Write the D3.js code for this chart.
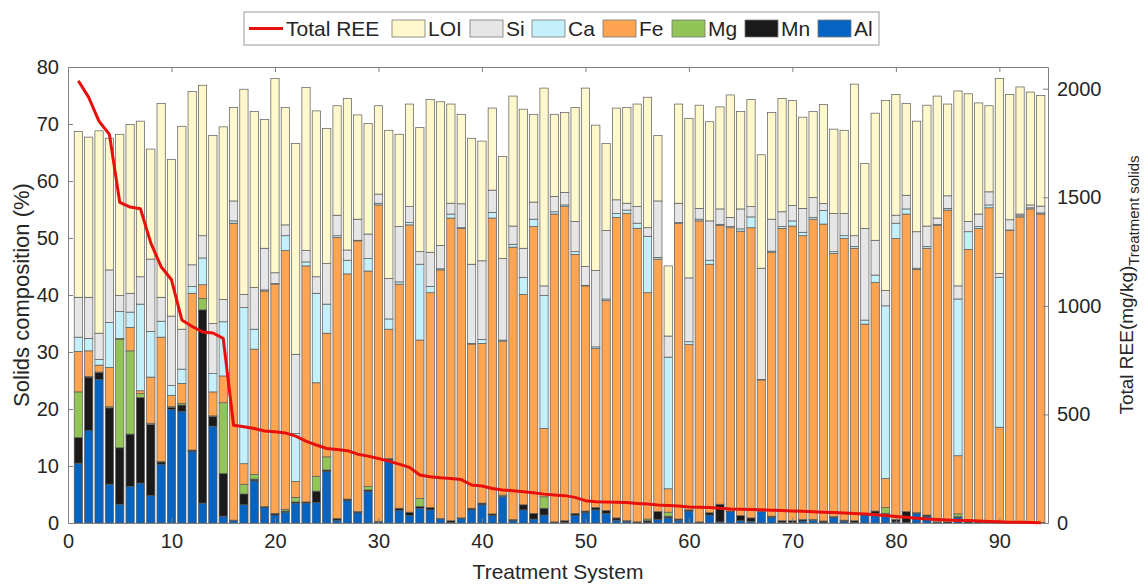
<!DOCTYPE html>
<html>
<head>
<meta charset="utf-8">
<script src="https://cdn.jsdelivr.net/npm/d3@7"></script>
<style>
  body { margin: 0; background: #fff; }
  svg { font-family: "Liberation Sans", Arial, sans-serif; }
</style>
</head>
<body>
<div id="chart"></div>
<script>
// treatment systems 1..94
const systems = d3.range(1, 95);

// solids composition (%) per system, stacked bottom to top
const al = [10.5,16.2,25.2,6.8,3.3,6.4,7.0,4.8,10.3,19.9, 19.6,12.5,3.5,17.0,1.2,0.4,3.2,7.4,2.7,1.4,
  1.9,3.5,3.5,3.6,9.0,0.5,3.9,1.8,5.5,0.2, 11.1,2.2,1.3,2.6,2.3,0.7,0.1,0.8,2.3,3.2,
  1.3,4.6,0.4,2.3,0.7,1.4,0.1,0.1,1.3,1.8, 2.3,1.7,0.5,0.3,0.1,0.1,0.6,0.9,0.5,2.1,
  0.1,1.4,0.2,2.0,0.4,0.3,2.0,1.0,0.1,0.1, 0.35,0.5,0.1,1.0,0.3,0.1,1.6,1.7,1.6,0.2,
  0.1,1.7,1.1,0.1,0,1.0,0,0.1,0.05,0, 0,0,0,0];
const mn = [4.5,9.4,1.2,13.4,9.9,9.2,15.0,12.5,0.4,0.4, 1.1,0.3,33.9,1.7,7.5,0.1,1.9,0.3,0.2,0.3,
  0.2,0.2,0.2,2.0,0.3,0.3,0.3,0.2,0.3,0.1, 0.2,0.4,0.6,0.3,0.4,0.1,0.3,0.1,0.3,0.3,
  0.3,0.1,0.2,0.9,1.0,1.2,0.1,0.3,0.4,0.3, 0.4,0.5,0.4,0.1,0.1,0.3,1.4,0.3,0.2,0.2,
  0.1,0.4,3.1,0.1,0.9,0.6,0,0.2,0.3,0.3, 0.25,0.1,0.25,0.1,0.2,0.3,0.1,0.4,0.1,0.4,
  1.9,0.1,0.3,0.1,0.2,0.1,0.2,0.1,0.05,0.1, 0.1,0.1,0.1,0.1];
const mg = [8.0,0.1,0.1,0.2,19.0,14.6,0.7,0.2,0.1,0.1, 0.3,0,2.0,0.1,12.4,0,1.7,0.8,0,0,
  0.3,0.8,0,2.6,2.3,0,0,0,0.6,0, 0,0,0,1.4,0,0,0,0,0,0,
  0,0.2,0,0,0,2.0,0,0,0,0, 0,0,0,0,0,0.3,0,0.7,0,0,
  0,0,0,0,0,0,0,0,0,0, 0,0,0,0,0,0,0,0,1.0,0,
  0,0,0,0,0,0.5,0,0,0,0, 0,0,0,0];
const fe = [7.1,4.5,1.2,6.9,0.2,4.1,0.5,8.1,21.8,2.0, 3.5,27.5,2.4,4.2,4.7,52.1,3.6,22.0,37.8,40.2,
  45.4,2.8,41.4,16.4,21.7,49.3,39.5,47.5,37.8,55.5, 22.7,39.3,50.4,27.8,37.7,43.6,53.1,50.8,28.8,28.0,
  51.9,27.0,47.8,36.9,50.3,12.0,54.0,55.1,45.4,39.5, 27.9,36.8,52.7,53.9,51.5,39.7,44.3,4.1,51.9,29.0,
  52.8,43.6,48.9,49.7,49.9,50.9,23.1,46.3,51.3,51.7, 49.8,52.7,52.1,46.2,49.4,47.8,33.2,40.1,5.1,49.3,
  52.2,42.7,46.8,52.0,54.7,10.2,47.8,51.5,55.2,16.7, 51.2,53.6,55.0,54.1];
const ca = [2.5,2.2,1.0,7.9,4.7,2.7,15.2,8.0,2.8,1.7, 2.5,1.2,4.7,3.2,9.5,0.4,27.4,3.5,0.2,0.1,
  2.6,8.4,0.7,15.7,5.1,0.3,2.4,0.1,2.2,0.3, 1.8,0.4,0.4,13.3,1.1,0.2,0.7,0.1,0.1,0.7,
  1.0,0.2,0.5,3.0,1.3,23.3,0.4,0.3,0.5,0.1, 0.3,0.3,0.7,0.6,0.9,9.9,0.3,23.1,0.1,0.5,
  0.3,0.7,0.2,0.2,0.4,1.9,0.1,0.2,0.3,0.9, 0.6,0.3,2.4,0.3,0.5,0.3,0.7,1.3,30.3,2.7,
  0.9,0.2,0.3,0.2,0.3,27.5,3.1,0.3,0.5,26.3, 0.1,0.2,0.2,0.2];
const si = [7.0,7.2,4.6,9.2,2.8,3.3,4.8,12.7,4.2,12.2, 7.0,3.8,3.9,8.8,3.9,3.5,2.3,7.3,7.3,1.9,
  1.9,13.9,2.0,2.9,7.1,3.6,1.8,3.7,4.3,1.6, 7.1,9.7,2.8,2.2,6.0,4.1,1.9,4.2,13.9,13.8,
  3.9,14.3,3.2,5.1,3.0,1.7,2.7,2.2,5.3,3.3, 13.4,12.0,2.4,1.2,2.9,1.5,9.9,3.7,3.4,11.2,
  1.9,6.9,2.7,1.6,3.5,1.8,19.5,5.6,2.6,2.7, 4.2,3.5,1.2,6.7,3.9,1.9,16.1,6.1,2.7,1.4,
  2.4,6.4,3.6,1.1,2.2,2.3,1.8,2.2,2.3,0.7, 1.8,0.3,0.5,1.2];
const loi = [29.1,28.1,35.5,23.1,28.3,29.6,27.3,19.3,34.0,27.5, 35.6,30.4,26.4,33.0,30.3,16.4,36.0,30.9,22.6,34.1,
  20.6,37.0,28.6,29.1,23.7,19.2,26.6,18.3,19.4,15.5, 26.0,16.2,18.0,21.8,26.8,25.2,17.4,15.7,22.1,21.0,
  14.4,17.9,22.8,24.4,15.4,34.7,14.4,14.0,20.0,31.3, 25.5,15.3,16.1,16.8,18.0,22.9,11.5,12.3,17.4,28.0,
  18.1,17.4,17.9,21.5,17.1,18.8,19.9,18.7,19.9,18.4, 16.0,15.1,17.4,14.8,14.6,26.6,11.4,22.3,33.3,21.2,
  16.1,19.4,21.2,21.4,16.1,34.2,22.4,19.5,15.1,34.2, 22.0,22.3,19.8,19.4];

// total REE (mg/kg) in treatment solids
const totalREE = [2037,1960,1850,1790,1477,1455,1447,1290,1180,1120, 935,905,880,875,850,450,443,435,424,420,
  415,400,377,359,343,339,333,317,308,297, 285,271,256,221,213,208,205,200,175,170,
  159,152,149,144,139,133,129,126,118,103, 98,97,96,94,90,87,83,81,78,74,
  73,71,68,64,63,62,61,59,57,55, 54,52,50,48,46,44,41,38,34,30,
  26,22,18,16,14,12,11,9,7,6, 4,3,2,1];

const keys = ['Al', 'Mn', 'Mg', 'Fe', 'Ca', 'Si', 'LOI'];
const colors = {Al: '#0563c1', Mn: '#1a1a1a', Mg: '#92c457', Fe: '#ffa552',
                Ca: '#c3f0fb', Si: '#e6e6e6', LOI: '#fff8cc'};
const legendOrder = ['LOI', 'Si', 'Ca', 'Fe', 'Mg', 'Mn', 'Al'];

const table = systems.map((s, i) => ({
  sys: s, Al: al[i], Mn: mn[i], Mg: mg[i], Fe: fe[i], Ca: ca[i], Si: si[i], LOI: loi[i]
}));

const width = 1145, height = 585;
const m = {left: 68, right: 97, top: 67, bottom: 62};

const svg = d3.select('#chart').append('svg')
  .attr('width', width).attr('height', height);

const x = d3.scaleLinear().domain([0, 94.7]).range([m.left, width - m.right]);
const yL = d3.scaleLinear().domain([0, 80]).range([height - m.bottom, m.top]);
const yR = d3.scaleLinear().domain([0, 2100]).range([height - m.bottom, m.top]);
const bw = x(0.8) - x(0);

const stacked = d3.stack().keys(keys)(table);

svg.append('g').selectAll('g')
  .data(stacked)
  .enter().append('g')
  .attr('fill', d => colors[d.key])
  .selectAll('rect')
  .data(d => d)
  .enter().append('rect')
  .attr('x', d => x(d.data.sys) - bw / 2)
  .attr('width', bw)
  .attr('y', d => yL(d[1]))
  .attr('height', d => yL(d[0]) - yL(d[1]))
  .attr('stroke', '#5a5a5a')
  .attr('stroke-width', 0.7);

// axes
const axisColor = '#808080';
const txtColor = '#262626';

function styleAxis(g) {
  g.selectAll('.domain').attr('stroke', axisColor);
  g.selectAll('.tick line').attr('stroke', axisColor);
  g.selectAll('.tick text').attr('fill', txtColor).style('font-size', '20px');
}

svg.append('g')
  .attr('transform', `translate(0,${height - m.bottom})`)
  .call(d3.axisBottom(x).tickValues(d3.range(0, 91, 10)).tickSizeInner(-5).tickSizeOuter(0).tickPadding(11))
  .call(styleAxis);

svg.append('g')
  .attr('transform', `translate(0,${m.top})`)
  .call(d3.axisTop(x).tickValues(d3.range(0, 91, 10)).tickSizeInner(-5).tickSizeOuter(0).tickFormat(''))
  .call(styleAxis);

svg.append('g')
  .attr('transform', `translate(${m.left},0)`)
  .call(d3.axisLeft(yL).tickValues(d3.range(0, 81, 10)).tickSizeInner(-5).tickSizeOuter(0).tickPadding(9))
  .call(styleAxis);

svg.append('g')
  .attr('transform', `translate(${width - m.right},0)`)
  .call(d3.axisRight(yR).tickValues([0, 500, 1000, 1500, 2000]).tickFormat(d3.format('d'))
    .tickSizeInner(-5).tickSizeOuter(0).tickPadding(9))
  .call(styleAxis);

// total REE line
const line = d3.line()
  .x((d, i) => x(systems[i]))
  .y(d => yR(d));

svg.append('path')
  .datum(totalREE)
  .attr('fill', 'none')
  .attr('stroke', '#e8100c')
  .attr('stroke-width', 3)
  .attr('stroke-linejoin', 'round')
  .attr('d', line);

// axis titles
svg.append('text')
  .attr('transform', `translate(29,${(m.top + height - m.bottom) / 2}) rotate(-90)`)
  .attr('text-anchor', 'middle')
  .attr('fill', txtColor)
  .style('font-size', '22px')
  .text('Solids composition (%)');

svg.append('text')
  .attr('x', (m.left + width - m.right) / 2)
  .attr('y', 579)
  .attr('text-anchor', 'middle')
  .attr('fill', txtColor)
  .style('font-size', '21px')
  .text('Treatment System');

const rt = svg.append('text')
  .attr('transform', 'translate(1133,285) rotate(-90)')
  .attr('text-anchor', 'middle')
  .attr('fill', txtColor)
  .style('font-size', '19px');
rt.append('tspan').text('Total REE(mg/kg)');
rt.append('tspan').attr('dy', 6).style('font-size', '15px').text('Treatment solids');

// legend
const lg = svg.append('g');
lg.append('rect')
  .attr('x', 244).attr('y', 12).attr('width', 635).attr('height', 33)
  .attr('fill', '#fff').attr('stroke', '#999');

lg.append('line')
  .attr('x1', 249).attr('x2', 283).attr('y1', 28.5).attr('y2', 28.5)
  .attr('stroke', '#e8100c').attr('stroke-width', 3);
lg.append('text').attr('x', 286).attr('y', 36)
  .attr('fill', txtColor).style('font-size', '21px').text('Total REE');

const swatchX = [392, 470, 532, 603, 672, 745, 818];
lg.selectAll('.sw')
  .data(legendOrder)
  .enter().append('rect')
  .attr('class', 'sw')
  .attr('x', (d, i) => swatchX[i])
  .attr('y', 20)
  .attr('width', 33)
  .attr('height', 17)
  .attr('fill', d => colors[d])
  .attr('stroke', '#777')
  .attr('stroke-width', 0.8);

lg.selectAll('.lt')
  .data(legendOrder)
  .enter().append('text')
  .attr('class', 'lt')
  .attr('x', (d, i) => swatchX[i] + 36)
  .attr('y', 36)
  .attr('fill', txtColor)
  .style('font-size', '21px')
  .text(d => d);
</script>
</body>
</html>
